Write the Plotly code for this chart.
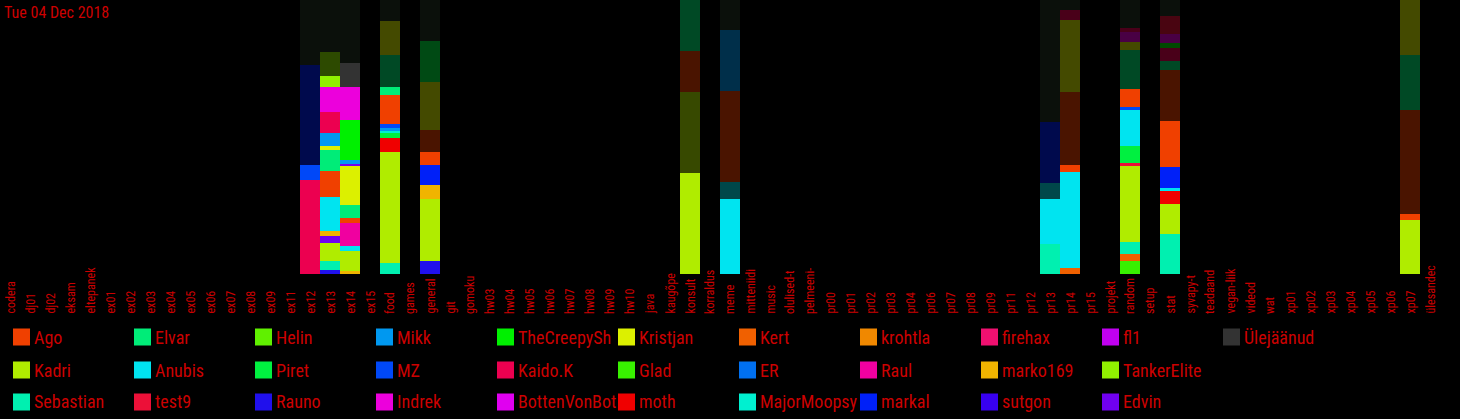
import plotly.graph_objects as go

# ---------------- data ----------------
categories = ["codera", "dj01", "dj02", "eksam", "eltepanek", "ex01", "ex02", "ex03", "ex04", "ex05",
              "ex06", "ex07", "ex08", "ex09", "ex11", "ex12", "ex13", "ex14", "ex15", "food",
              "games", "general", "git", "gomoku", "hw03", "hw04", "hw05", "hw06", "hw07", "hw08",
              "hw09", "hw10", "java", "kaugõpe", "konsult", "korraldus", "meme", "mitteniidi",
              "music", "olulised-t", "pelmeeni-", "pr00", "pr01", "pr02", "pr03", "pr04", "pr06",
              "pr07", "pr08", "pr09", "pr11", "pr12", "pr13", "pr14", "pr15", "projekt", "random",
              "setup", "stat", "syvapy-t", "teadaand", "vegan-liik", "videod", "wat", "xp01",
              "xp02", "xp03", "xp04", "xp05", "xp06", "xp07", "ülesandec"]

users = ["Ago", "Kadri", "Sebastian", "Elvar", "Anubis", "test9", "Helin", "Piret", "Rauno",
         "Mikk", "MZ", "Indrek", "TheCreepySh", "Kaido.K", "BottenVonBot", "Kristjan", "Glad",
         "moth", "Kert", "ER", "MajorMoopsy", "krohtla", "Raul", "markal", "firehax", "marko169",
         "sutgon", "fl1", "TankerElite", "Edvin", "Ülejäänud"]

user_colors = ["#f04000", "#b0ec00", "#00f0b0", "#00ec78", "#00e4f0", "#ec1038", "#60f000",
               "#00f040", "#2010ec", "#0098f0", "#0048f8", "#ec00dc", "#00f000", "#ec0050",
               "#e000f0", "#dcf000", "#38f000", "#f00000", "#f06000", "#0070f0", "#00f0d0",
               "#f08800", "#f000a0", "#0020f8", "#f01070", "#f0b400", "#3800f0", "#c000f0",
               "#90f000", "#7000f0", "#333333"]

# per-channel message shares, bottom -> top: (user, amount, older=1 / today=0)
ex12 = [("Kaido.K", 94, 0), ("MZ", 15, 0), ("markal", 100, 1), ("Ülejäänud", 65, 1)]
ex13 = [("Rauno", 4, 0), ("Sebastian", 9, 0), ("Kadri", 18, 0), ("Edvin", 7, 0),
        ("marko169", 5, 0), ("Anubis", 34, 0), ("Ago", 26, 0), ("Elvar", 21, 0),
        ("Kristjan", 4, 0), ("Mikk", 13, 0), ("Kaido.K", 21, 0), ("Indrek", 25, 0),
        ("TankerElite", 11, 0), ("TankerElite", 24, 1), ("Ülejäänud", 52, 1)]
ex14 = [("marko169", 3, 0), ("Kadri", 20, 0), ("Anubis", 5, 0), ("Raul", 23, 0), ("Ago", 5, 0),
        ("Elvar", 13, 0), ("Kristjan", 39, 0), ("Edvin", 2, 0), ("Mikk", 4, 0),
        ("TheCreepySh", 40, 0), ("Indrek", 33, 0), ("Ülejäänud", 24, 0), ("Ülejäänud", 63, 1)]
food = [("Sebastian", 11, 0), ("Kadri", 111, 0), ("moth", 14, 0), ("Piret", 5, 0),
        ("MajorMoopsy", 2, 0), ("Mikk", 3, 0), ("MZ", 4, 0), ("Ago", 29, 0), ("Elvar", 8, 0),
        ("Elvar", 32, 1), ("Kristjan", 34, 1), ("Ülejäänud", 21, 1)]
general = [("Rauno", 13, 0), ("Kadri", 62, 0), ("marko169", 14, 0), ("markal", 20, 0),
           ("Ago", 13, 0), ("Ago", 22, 1), ("Kristjan", 48, 1), ("Piret", 41, 1),
           ("Ülejäänud", 41, 1)]
konsult = [("Kadri", 101, 0), ("Kadri", 81, 1), ("Ago", 41, 1), ("Elvar", 51, 1)]
meme = [("Anubis", 75, 0), ("Anubis", 17, 1), ("Ago", 91, 1), ("Mikk", 61, 1), ("Ülejäänud", 30, 1)]
pr13 = [("Sebastian", 30, 0), ("Anubis", 45, 0), ("Anubis", 16, 1), ("markal", 61, 1),
        ("Ülejäänud", 122, 1)]
pr14 = [("Kert", 6, 0), ("Anubis", 96, 0), ("Ago", 7, 0), ("Ago", 73, 1), ("Kristjan", 72, 1),
        ("Kaido.K", 10, 1), ("Ülejäänud", 10, 1)]
random_ch = [("Glad", 13, 0), ("Kert", 7, 0), ("Sebastian", 12, 0), ("Kadri", 76, 0),
             ("test9", 3, 0), ("Piret", 17, 0), ("Anubis", 36, 0), ("MZ", 3, 0), ("Ago", 18, 0),
             ("Elvar", 39, 1), ("Kristjan", 8, 1), ("Indrek", 10, 1), ("Kaido.K", 4, 1),
             ("Ülejäänud", 28, 1)]
stat = [("Sebastian", 40, 0), ("Kadri", 30, 0), ("moth", 13, 0), ("Anubis", 3, 0),
        ("markal", 21, 0), ("Ago", 46, 0), ("Ago", 51, 1), ("Elvar", 9, 1), ("Kaido.K", 13, 1),
        ("TheCreepySh", 5, 1), ("Indrek", 9, 1), ("test9", 18, 1), ("Ülejäänud", 16, 1)]
xp07 = [("Kadri", 54, 0), ("Ago", 6, 0), ("Ago", 104, 1), ("Elvar", 55, 1), ("Kristjan", 55, 1)]

channel_data = {"ex12": ex12, "ex13": ex13, "ex14": ex14, "food": food, "general": general,
                "konsult": konsult, "meme": meme, "pr13": pr13, "pr14": pr14,
                "random": random_ch, "stat": stat, "xp07": xp07}

date_label = "Tue 04 Dec 2018"

# ---------------- style ----------------
FONT = "Roboto Condensed, Liberation Sans Narrow, sans-serif"
TXT = "#cc0000"
DIM = 0.31
REST_OLDER = "#0b100b"
W, H = 1460, 419
ML, MR, MT, MB = 0, 20, 0, 145
PLOT_H = H - MT - MB


def color_of(user, older):
    c = user_colors[users.index(user)]
    if not older:
        return c
    if user == "Ülejäänud":
        return REST_OLDER
    r, g, b = (int(c[i:i + 2], 16) for i in (1, 3, 5))
    return "#%02x%02x%02x" % (round(r * DIM), round(g * DIM), round(b * DIM))


fig = go.Figure()

# invisible trace to fix the full category axis
fig.add_trace(go.Bar(x=categories, y=[0] * len(categories), showlegend=False,
                     hoverinfo="skip", marker=dict(color="rgba(0,0,0,0)")))

for ch, segs in channel_data.items():
    for user, val, older in segs:
        fig.add_trace(go.Bar(
            x=[ch], y=[val], name=user, showlegend=False,
            marker=dict(color=color_of(user, older), line=dict(width=0)),
            hovertemplate="%{x}<br>" + user + ": %{y:.1f}%<extra></extra>",
        ))

# category labels (bottom-aligned, rotated)
for ch in categories:
    fig.add_annotation(x=ch, xref="x", y=-42 / PLOT_H, yref="paper",
                       text=ch, textangle=-90, showarrow=False,
                       xanchor="center", yanchor="bottom",
                       font=dict(family=FONT, size=12, color=TXT))

# legend (column-major, 3 rows)
row_y = [337, 370, 402]
for i, user in enumerate(users):
    col, row = divmod(i, 3)
    x0 = 13 + 121 * col
    yc = row_y[row]
    fig.add_shape(type="rect", xref="paper", yref="paper",
                  x0=(x0 - ML) / (W - ML - MR), x1=(x0 + 17 - ML) / (W - ML - MR),
                  y0=(H - MB - (yc + 8.5)) / PLOT_H, y1=(H - MB - (yc - 8.5)) / PLOT_H,
                  fillcolor=user_colors[i], line=dict(width=0), layer="above")
    fig.add_annotation(x=(x0 + 19 - ML) / (W - ML - MR), xref="paper",
                       y=(H - MB - yc) / PLOT_H, yref="paper",
                       text=user, showarrow=False, xanchor="left", yanchor="middle",
                       font=dict(family=FONT, size=18, color=TXT))

fig.update_layout(
    width=W, height=H,
    paper_bgcolor="black", plot_bgcolor="black",
    margin=dict(l=ML, r=MR, t=MT, b=MB),
    barmode="stack", barnorm="percent", bargap=0,
    showlegend=False,
    title=dict(text=date_label, x=4 / W, xanchor="left", xref="container",
               y=1 - 12 / H, yanchor="middle", yref="container",
               font=dict(family=FONT, size=16, color=TXT)),
    xaxis=dict(type="category", categoryorder="array", categoryarray=categories,
               range=[-0.5, len(categories) - 0.5], showticklabels=False,
               showgrid=False, zeroline=False, showline=False, ticks=""),
    yaxis=dict(range=[0, 100], visible=False, showgrid=False, zeroline=False),
)

fig.write_html("out.html", config={"displayModeBar": False},
               post_script="document.body.style.margin='0';document.body.style.background='black';"
                           "document.body.style.overflow='hidden';")
